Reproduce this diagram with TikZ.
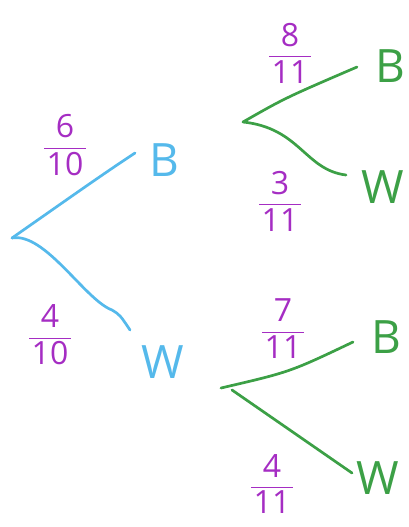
\documentclass[tikz,border=0pt]{standalone}
\usepackage{amsmath}
\usepackage{fontspec}
\setmainfont{Open Sans}
\definecolor{branchblue}{RGB}{85,185,235}
\definecolor{branchgreen}{RGB}{60,160,70}
\definecolor{probpurple}{RGB}{165,45,195}
\newcommand{\probfrac}[2]{$\displaystyle\frac{\hbox to 1.3em{\hss#1\hss}}{\text{#2}}$}
\tikzset{
  outcome/.style={font=\fontsize{46}{50}\selectfont, inner sep=0pt},
  prob/.style={text=probpurple, font=\fontsize{32}{34}\selectfont, inner sep=0pt},
  branch/.style={line width=2.7pt, line cap=round}
}

\begin{document}
\begin{tikzpicture}[x=1pt, y=-1pt]
    \useasboundingbox (0,0) rectangle (408,527);

    % --- First draw ---
    \coordinate (root) at (12,238);
    \coordinate (endB) at (135,153);
    \coordinate (endW) at (130,330);
    \node (firstB) [outcome, text=branchblue] at (164,160) {B};
    \node (firstW) [outcome, text=branchblue] at (163,362) {W};
    \node (pB) [prob] at (65,145) {\probfrac{6}{10}};
    \node (pW) [prob] at (50,335) {\probfrac{4}{10}};

    \draw [branch, branchblue] (root) .. controls (55,208) and (100,176) .. (endB);
    \draw [branch, branchblue] (root) .. controls (45,232) and (85,300) .. (112,310) .. controls (120,315) .. (endW);

    % --- Second draw after B ---
    \coordinate (rootB) at (243,122);
    \coordinate (endBB) at (357,67);
    \coordinate (endBW) at (346,175);
    \node (secBB) [outcome, text=branchgreen] at (390,66) {B};
    \node (secBW) [outcome, text=branchgreen] at (383,187) {W};
    \node (pBB) [prob] at (290,53) {\probfrac{8}{11}};
    \node (pBW) [prob] at (280,201) {\probfrac{3}{11}};

    \draw [branch, branchgreen] (rootB) .. controls (285,98) .. (endBB);
    \draw [branch, branchgreen] (rootB) .. controls (300,128) and (305,170) .. (endBW);

    % --- Second draw after W ---
    \coordinate (rootW) at (221,388);
    \coordinate (endWB) at (353,342);
    \coordinate (endWW) at (352,473);
    \node (secWB) [outcome, text=branchgreen] at (386,337) {B};
    \node (secWW) [outcome, text=branchgreen] at (378,478) {W};
    \node (pWB) [prob] at (283,329) {\probfrac{7}{11}};
    \node (pWW) [prob] at (272,484) {\probfrac{4}{11}};

    \draw [branch, branchgreen] (rootW) .. controls (290,372) .. (endWB);
    \draw [branch, branchgreen] (rootW) ++(11,2) -- (endWW);
\end{tikzpicture}
\end{document}
